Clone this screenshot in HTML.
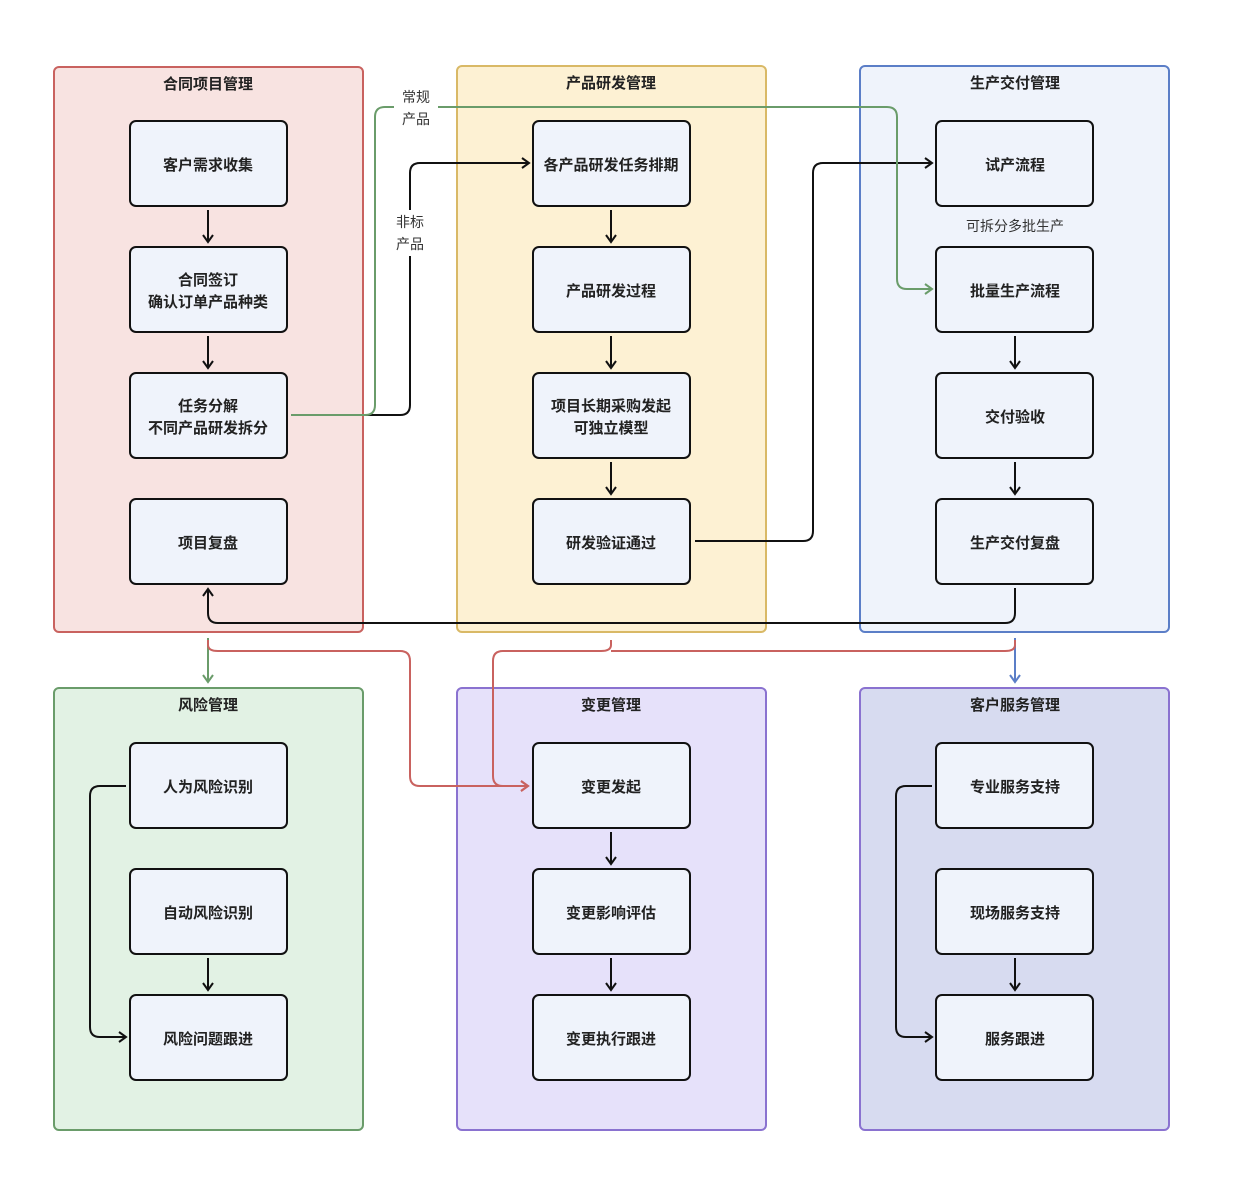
<!DOCTYPE html>
<html><head><meta charset="utf-8"><style>
html,body{margin:0;padding:0;background:#fff}
svg text{font-family:"Liberation Sans","Noto Sans CJK SC",sans-serif}
.t{font-size:15px;font-weight:bold;fill:#222;text-anchor:middle}
.l{font-size:14px;fill:#333;text-anchor:middle}
.n{fill:#eff3fb;stroke:#111;stroke-width:2}
.e{fill:none;stroke-width:2}
</style></head><body>
<svg width="1242" height="1178" viewBox="0 0 1242 1178" xmlns="http://www.w3.org/2000/svg">
<defs>
<marker id="ak" markerWidth="12" markerHeight="12" refX="10" refY="6" orient="auto" markerUnits="userSpaceOnUse"><path d="M3,1 L10,6 L3,11" fill="none" stroke="#111" stroke-width="2"/></marker>
<marker id="ag" markerWidth="12" markerHeight="12" refX="10" refY="6" orient="auto" markerUnits="userSpaceOnUse"><path d="M3,1 L10,6 L3,11" fill="none" stroke="#6a9c6a" stroke-width="2"/></marker>
<marker id="ab" markerWidth="12" markerHeight="12" refX="10" refY="6" orient="auto" markerUnits="userSpaceOnUse"><path d="M3,1 L10,6 L3,11" fill="none" stroke="#5b7ec7" stroke-width="2"/></marker>
<marker id="ar" markerWidth="12" markerHeight="12" refX="10" refY="6" orient="auto" markerUnits="userSpaceOnUse"><path d="M3,1 L10,6 L3,11" fill="none" stroke="#c9625f" stroke-width="2"/></marker>
</defs>
<rect x="54" y="67" width="309" height="565" rx="5" fill="#f8e3e1" stroke="#c9625f" stroke-width="2"/>
<rect x="457" y="66" width="309" height="566" rx="5" fill="#fdf1d3" stroke="#d9b966" stroke-width="2"/>
<rect x="860" y="66" width="309" height="566" rx="5" fill="#eff3fb" stroke="#5b7ec7" stroke-width="2"/>
<rect x="54" y="688" width="309" height="442" rx="5" fill="#e2f2e4" stroke="#6a9c6a" stroke-width="2"/>
<rect x="457" y="688" width="309" height="442" rx="5" fill="#e6e1fa" stroke="#8a72d0" stroke-width="2"/>
<rect x="860" y="688" width="309" height="442" rx="5" fill="#d7dbf0" stroke="#8a72d0" stroke-width="2"/>
<text class="t" x="208" y="89">合同项目管理</text>
<text class="t" x="611" y="88">产品研发管理</text>
<text class="t" x="1015" y="88">生产交付管理</text>
<text class="t" x="208" y="710">风险管理</text>
<text class="t" x="611" y="710">变更管理</text>
<text class="t" x="1015" y="710">客户服务管理</text>
<g>
<rect class="n" x="130" y="121" width="157" height="85" rx="6"/>
<rect class="n" x="130" y="247" width="157" height="85" rx="6"/>
<rect class="n" x="130" y="373" width="157" height="85" rx="6"/>
<rect class="n" x="130" y="499" width="157" height="85" rx="6"/>
<rect class="n" x="533" y="121" width="157" height="85" rx="6"/>
<rect class="n" x="533" y="247" width="157" height="85" rx="6"/>
<rect class="n" x="533" y="373" width="157" height="85" rx="6"/>
<rect class="n" x="533" y="499" width="157" height="85" rx="6"/>
<rect class="n" x="936" y="121" width="157" height="85" rx="6"/>
<rect class="n" x="936" y="247" width="157" height="85" rx="6"/>
<rect class="n" x="936" y="373" width="157" height="85" rx="6"/>
<rect class="n" x="936" y="499" width="157" height="85" rx="6"/>
<rect class="n" x="130" y="743" width="157" height="85" rx="6"/>
<rect class="n" x="130" y="869" width="157" height="85" rx="6"/>
<rect class="n" x="130" y="995" width="157" height="85" rx="6"/>
<rect class="n" x="533" y="743" width="157" height="85" rx="6"/>
<rect class="n" x="533" y="869" width="157" height="85" rx="6"/>
<rect class="n" x="533" y="995" width="157" height="85" rx="6"/>
<rect class="n" x="936" y="743" width="157" height="85" rx="6"/>
<rect class="n" x="936" y="869" width="157" height="85" rx="6"/>
<rect class="n" x="936" y="995" width="157" height="85" rx="6"/>
</g>
<text class="t" x="208" y="170">客户需求收集</text>
<text class="t" x="208" y="285">合同签订</text>
<text class="t" x="208" y="307">确认订单产品种类</text>
<text class="t" x="208" y="411">任务分解</text>
<text class="t" x="208" y="433">不同产品研发拆分</text>
<text class="t" x="208" y="548">项目复盘</text>
<text class="t" x="611" y="170">各产品研发任务排期</text>
<text class="t" x="611" y="296">产品研发过程</text>
<text class="t" x="611" y="411">项目长期采购发起</text>
<text class="t" x="611" y="433">可独立模型</text>
<text class="t" x="611" y="548">研发验证通过</text>
<text class="t" x="1015" y="170">试产流程</text>
<text class="t" x="1015" y="296">批量生产流程</text>
<text class="t" x="1015" y="422">交付验收</text>
<text class="t" x="1015" y="548">生产交付复盘</text>
<text class="t" x="208" y="792">人为风险识别</text>
<text class="t" x="208" y="918">自动风险识别</text>
<text class="t" x="208" y="1044">风险问题跟进</text>
<text class="t" x="611" y="792">变更发起</text>
<text class="t" x="611" y="918">变更影响评估</text>
<text class="t" x="611" y="1044">变更执行跟进</text>
<text class="t" x="1015" y="792">专业服务支持</text>
<text class="t" x="1015" y="918">现场服务支持</text>
<text class="t" x="1015" y="1044">服务跟进</text>
<g class="e" stroke="#111" marker-end="url(#ak)">
<path d="M208,210 V242"/><path d="M208,336 V368"/>
<path d="M611,210 V242"/><path d="M611,336 V368"/><path d="M611,462 V494"/>
<path d="M1015,336 V368"/><path d="M1015,462 V494"/>
<path d="M208,958 V990"/><path d="M611,832 V864"/><path d="M611,958 V990"/><path d="M1015,958 V990"/>
<path d="M365,415 H400 Q410,415 410,405 V173 Q410,163 420,163 H529"/>
<path d="M695,541 H803 Q813,541 813,531 V173 Q813,163 823,163 H932"/>
<path d="M1015,588 V613 Q1015,623 1005,623 H218 Q208,623 208,613 V589"/>
<path d="M126,786 H100 Q90,786 90,796 V1027 Q90,1037 100,1037 H126"/>
<path d="M932,786 H906 Q896,786 896,796 V1027 Q896,1037 906,1037 H932"/>
</g>
<path class="e" stroke="#6a9c6a" marker-end="url(#ag)" d="M291,415 H365 Q375,415 375,405 V117 Q375,107 385,107 H887 Q897,107 897,117 V279 Q897,289 907,289 H932"/>
<path class="e" stroke="#6a9c6a" marker-end="url(#ag)" d="M208,638 V682"/>
<path class="e" stroke="#5b7ec7" marker-end="url(#ab)" d="M1015,638 V682"/>
<g class="e" stroke="#c9625f">
<path marker-end="url(#ar)" d="M208,640 V645 Q208,651 218,651 H400 Q410,651 410,661 V776 Q410,786 420,786 H528"/>
<path marker-end="url(#ar)" d="M611,640 V645 Q611,651 601,651 H503 Q493,651 493,661 V776 Q493,786 503,786 H528"/>
<path d="M1015,640 V645 Q1015,651 1005,651 H611"/>
</g>
<rect x="394" y="84" width="44" height="46" fill="#fff"/>
<text class="l" x="416" y="102">常规</text>
<text class="l" x="416" y="124">产品</text>
<rect x="392" y="210" width="36" height="46" fill="#fff"/>
<text class="l" x="410" y="227">非标</text>
<text class="l" x="410" y="249">产品</text>
<text class="l" x="1015" y="231">可拆分多批生产</text>
</svg>
</body></html>
